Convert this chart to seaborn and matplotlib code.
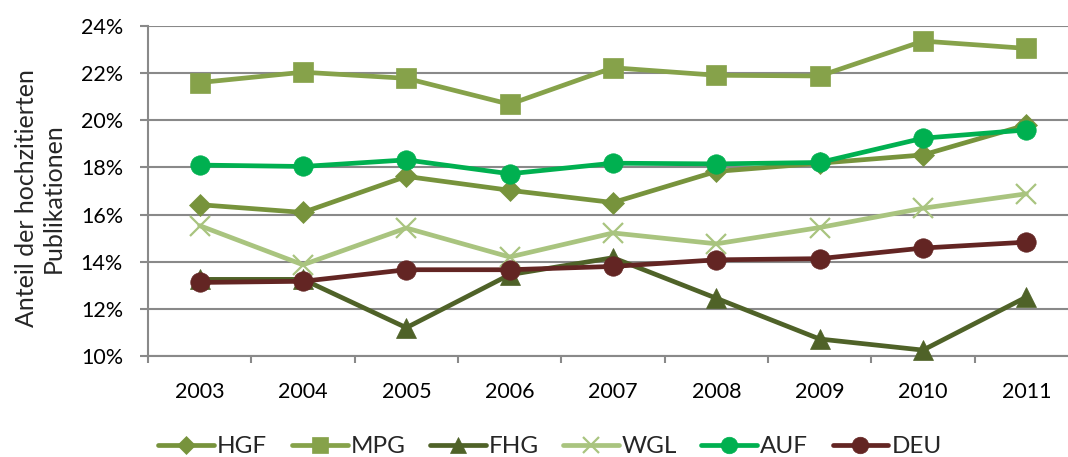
import matplotlib
matplotlib.use("Agg")
import matplotlib.pyplot as plt
from matplotlib.ticker import FixedLocator, FuncFormatter
from matplotlib.lines import Line2D
import pandas as pd
import seaborn as sns

years = [2003, 2004, 2005, 2006, 2007, 2008, 2009, 2010, 2011]
hgf = [16.42, 16.09, 17.62, 17.03, 16.51, 17.83, 18.18, 18.53, 19.80]
mpg = [21.60, 22.04, 21.78, 20.68, 22.23, 21.91, 21.88, 23.36, 23.05]
fhg = [13.25, 13.25, 11.20, 13.45, 14.17, 12.45, 10.72, 10.25, 12.50]
wgl = [15.53, 13.87, 15.43, 14.20, 15.22, 14.76, 15.45, 16.27, 16.88]
auf = [18.10, 18.04, 18.32, 17.73, 18.18, 18.15, 18.21, 19.24, 19.59]
deu = [13.12, 13.17, 13.66, 13.66, 13.80, 14.08, 14.13, 14.58, 14.83]

series_names = ["HGF", "MPG", "FHG", "WGL", "AUF", "DEU"]
series_values = [hgf, mpg, fhg, wgl, auf, deu]
colors = ["#77933C", "#86A24A", "#4F6228", "#A9C47F", "#00B050", "#632523"]
markers = ["D", "s", "^", "x", "o", "o"]
msizes = [11, 14, 14, 14, 14, 14]

rows = []
for name, vals in zip(series_names, series_values):
    for y, v in zip(years, vals):
        rows.append({"Jahr": y, "Anteil": v, "Gruppe": name})
df = pd.DataFrame(rows)

sns.set_theme(style="white")
plt.rcParams["font.family"] = ["Lato", "DejaVu Sans"]

fig = plt.figure(figsize=(10.68, 4.57), dpi=100)
ax = fig.add_axes([148 / 1068, 1 - 356 / 457, 930 / 1068, 330 / 457])

grid_color = "#898989"
for yv in range(10, 25, 2):
    ax.axhline(yv, color=grid_color, lw=1.5, zorder=0)

for name, c, m, ms in zip(series_names, colors, markers, msizes):
    sub = df[df["Gruppe"] == name]
    sns.lineplot(data=sub, x="Jahr", y="Anteil", ax=ax, color=c, lw=3.4,
                 marker=m, markersize=ms, markeredgecolor=c,
                 markeredgewidth=1.6 if m == "x" else 0.5,
                 legend=False, zorder=3, clip_on=False)

ax.set_xlim(2002.5, 2011.5)
ax.set_ylim(10, 24)

ax.xaxis.set_major_locator(FixedLocator(years))
ax.xaxis.set_minor_locator(FixedLocator([y - 0.5 for y in years] + [2011.5]))
ax.tick_params(axis="x", which="major", length=0, pad=19, labelsize=15.5, colors="#000000")
ax.tick_params(axis="x", which="minor", length=5, width=1.5, color=grid_color, direction="out")
ax.xaxis.set_tick_params(which="minor", bottom=True)
ax.yaxis.set_major_locator(FixedLocator(list(range(10, 25, 2))))
ax.yaxis.set_major_formatter(FuncFormatter(lambda v, p: f"{int(round(v))}%"))
ax.tick_params(axis="y", length=6, width=1.5, color=grid_color, direction="out",
               labelsize=15.5, pad=12, left=True, labelcolor="#000000")

for s in ["top", "right"]:
    ax.spines[s].set_visible(False)
for s in ["left", "bottom"]:
    ax.spines[s].set_color(grid_color)
    ax.spines[s].set_linewidth(1.5)

ax.set_xlabel("")
ax.set_ylabel("")
fig.text(40 / 1068, 1 - 198 / 457, "Anteil der hochzitierten\nPublikationen",
         rotation=90, ha="center", va="center", fontsize=18, linespacing=1.2,
         multialignment="center")

handles = [Line2D([0], [0], color=c, lw=3.4, marker=m, markersize=ms * 0.85,
                  markeredgecolor=c, markeredgewidth=1.6 if m == "x" else 0.5)
           for c, m, ms in zip(colors, markers, msizes)]
fig.legend(handles, series_names, loc="center", bbox_to_anchor=(0.515, 0.022),
           ncol=6, frameon=False, fontsize=17.5, handlelength=2.3,
           handletextpad=0.12, columnspacing=1.0)

fig.savefig("out.png", dpi=100)
